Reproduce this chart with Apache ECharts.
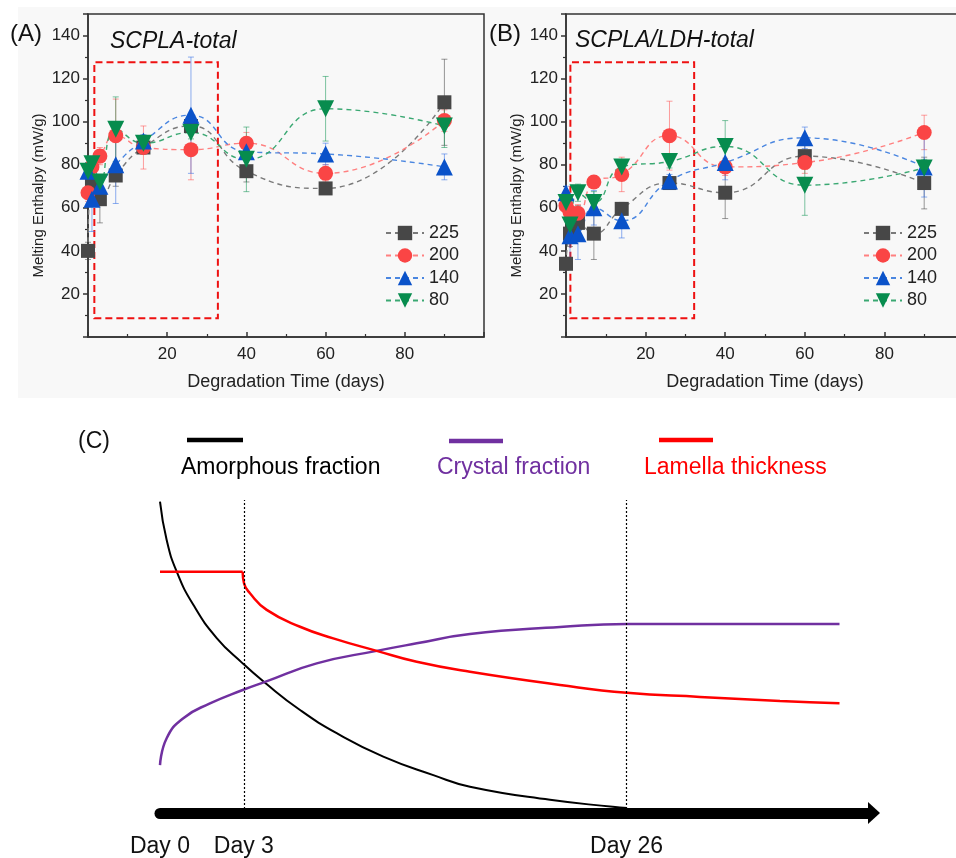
<!DOCTYPE html>
<html>
<head>
<meta charset="utf-8">
<title>Melting enthalpy vs degradation time</title>
<script src="https://cdn.jsdelivr.net/npm/echarts@6.0.0/dist/echarts.min.js"></script>
<style>
html, body { margin: 0; padding: 0; background: #fff; }
#chart { width: 956px; height: 858px; }
</style>
</head>
<body>
<div id="chart"></div>
<script>
// sampling days (both panels)
const days = [0, 1, 3, 7, 14, 26, 40, 60, 90];
const seriesNames = ['225', '200', '140', '80'];

// (A) SCPLA-total, mean and error
const a225 = [40, 71, 64, 75, 88, 98, 77, 69, 109];
const a200 = [67, 79, 84, 93.5, 88, 87, 90, 76, 100.5];
const a140 = [77, 64, 70, 80, 91, 103, 86, 85, 79];
const a80 = [77, 80.5, 72, 96.5, 90, 95, 82.5, 106, 98];
const a225Err = [4, 5, 11, 5, 3, 3, 5, 2, 20];
const a200Err = [4, 4, 4, 17, 10, 14, 5, 4, 5];
const a140Err = [4, 15, 5, 18, 3, 27, 4, 5, 6];
const a80Err = [4, 3, 3, 15, 3, 3, 15, 15, 10];

// (B) SCPLA/LDH-total
const b225 = [34, 48, 53, 48, 59.5, 71.5, 67, 84, 71.5];
const b200 = [61, 58, 57.5, 72, 75.5, 93.5, 79, 81, 95];
const b140 = [67, 47, 48, 60, 54, 72.5, 81, 92.5, 79];
const b80 = [62.5, 52, 67, 62.5, 79, 81.5, 88.5, 70.5, 78.5];
const b225Err = [3, 6, 8, 12, 3, 3, 12, 5, 12];
const b200Err = [3, 3, 4, 3, 8, 16, 4, 5, 8];
const b140Err = [3, 12, 12, 8, 8, 3, 8, 5, 14];
const b80Err = [3, 4, 4, 5, 3, 3, 12, 14, 4];

// (C) schematic curves, arbitrary units 0-100
const amorphousX = [0, 0.94, 2.36, 4.7, 8, 11.66, 14.81, 19.75, 24.92, 31.49, 38.55, 43.72, 55.01, 63.85, 65.87];
const amorphousY = [99.5, 87.2, 77.1, 66.5, 55.9, 47.8, 41.6, 32.9, 25.5, 18, 12.1, 8.4, 4.2, 2, 1.6];
const lamellaFlatX = [0, 11.66];
const lamellaFlatY = [77.1, 77.1];
const lamellaX = [11.66, 11.85, 12.69, 15.05, 19.75, 24.44, 30.56, 36.21, 43.72, 56.42, 65.87, 76.16, 87.45, 95.84];
const lamellaY = [77.1, 73.4, 70.2, 64.9, 59.5, 55.8, 51.8, 48.3, 45.1, 40.9, 38.4, 37.1, 35.8, 35.1];
const crystalX = [0, 0.94, 3.29, 7.05, 11.66, 14.81, 22.1, 30.56, 36.21, 43.72, 56.42, 65.87, 95.84];
const crystalY = [15.3, 23.9, 30.3, 35, 39.3, 41.9, 47.8, 51.8, 54.2, 57.2, 59.4, 60.4, 60.4];
const dayTickPos = [0, 11.83, 65.8];
const dayLabels = ['Day 0', 'Day 3', 'Day 26'];

const FONT = '"Liberation Sans", Arial, sans-serif';
const chart = echarts.init(document.getElementById('chart'));

const styles = [
  { symbol: 'rect', size: 14, mark: '#474747', line: '#7a7a7a', err: 'rgba(70,70,70,0.55)' },
  { symbol: 'circle', size: 15, mark: '#fa4545', line: '#ff8080', err: 'rgba(255,80,80,0.55)' },
  { symbol: 'triangle', size: 17, mark: '#0a52c9', line: '#4a86e0', err: 'rgba(50,110,230,0.55)' },
  { symbol: 'path://M0,0 L10,0 L5,9 Z', size: 17, mark: '#078c4e', line: '#3aa872', err: 'rgba(20,150,85,0.55)' }
];

function pairs(xs, ys) {
  return xs.map((x, i) => [x, ys[i]]);
}

function drawErrorBar(params, api) {
  const top = api.coord([api.value(0), api.value(2)]);
  const bot = api.coord([api.value(0), api.value(1)]);
  const cap = 3;
  const style = { stroke: api.visual('color'), lineWidth: 1 };
  return {
    type: 'group',
    children: [
      { type: 'line', shape: { x1: top[0], y1: top[1], x2: bot[0], y2: bot[1] }, style: style },
      { type: 'line', shape: { x1: top[0] - cap, y1: top[1], x2: top[0] + cap, y2: top[1] }, style: style },
      { type: 'line', shape: { x1: bot[0] - cap, y1: bot[1], x2: bot[0] + cap, y2: bot[1] }, style: style }
    ]
  };
}

function panelSeries(g, values, errs, box) {
  const out = [];
  values.forEach((vals, k) => {
    const s = styles[k];
    out.push({
      type: 'custom',
      xAxisIndex: g, yAxisIndex: g,
      silent: true,
      z: 2,
      itemStyle: { color: s.err },
      encode: { x: 0, y: [1, 2] },
      data: days.map((d, i) => [d, vals[i] - errs[k][i], vals[i] + errs[k][i]]),
      renderItem: drawErrorBar
    });
  });
  values.forEach((vals, k) => {
    const s = styles[k];
    const ser = {
      type: 'line',
      name: seriesNames[k],
      xAxisIndex: g, yAxisIndex: g,
      data: pairs(days, vals),
      smooth: true,
      clip: false,
      z: 3,
      symbol: s.symbol,
      symbolSize: s.size,
      itemStyle: { color: s.mark, opacity: 1 },
      lineStyle: { color: s.line, width: 1.4, type: [5, 4] }
    };
    if (k === 0) {
      ser.markArea = {
        silent: true,
        itemStyle: { color: 'rgba(0,0,0,0)', borderColor: '#ee1111', borderWidth: 2, borderType: [7, 4] },
        data: [[{ coord: [box[0], box[1]] }, { coord: [box[2], box[3]] }]]
      };
    }
    out.push(ser);
  });
  return out;
}

function xAxisAB(g) {
  return {
    gridIndex: g, type: 'value', min: 0, max: 100, interval: 20,
    axisLine: { lineStyle: { color: '#333', width: 1.5 } },
    axisTick: { inside: true, length: 5, lineStyle: { color: '#333', width: 1.5 } },
    minorTick: { show: true, splitNumber: 2, length: 3, lineStyle: { color: '#333', width: 1.2 } },
    splitLine: { show: false },
    axisLabel: { fontSize: 17, color: '#222', margin: 9, formatter: v => (v > 0 && v < 100 ? String(v) : '') },
    name: 'Degradation Time (days)', nameLocation: 'middle', nameGap: 36,
    nameTextStyle: { fontSize: 18, color: '#222' }
  };
}

function yAxisAB(g) {
  return {
    gridIndex: g, type: 'value', min: 0, max: 150, interval: 20,
    axisLine: { show: true, lineStyle: { color: '#333', width: 1.5 } },
    axisTick: { show: true, length: 5, lineStyle: { color: '#333', width: 1.5 } },
    minorTick: { show: true, splitNumber: 2, length: 3, lineStyle: { color: '#333', width: 1.2 } },
    splitLine: { show: false },
    axisLabel: { fontSize: 17, color: '#222', margin: 8, formatter: v => (v > 0 && v < 150 ? String(v) : '') },
    name: 'Melting Enthalpy (mW/g)', nameLocation: 'middle', nameGap: 42,
    nameTextStyle: { fontSize: 15, color: '#222', padding: [0, 40, 0, 0] }
  };
}

function legendAB(left) {
  return {
    data: seriesNames, orient: 'vertical', left: left, top: 224,
    itemWidth: 38, itemHeight: 18, itemGap: 4.5, padding: 0,
    textStyle: { fontSize: 18, color: '#222', fontFamily: FONT },
    selectedMode: false
  };
}

const schemeLine = (xs, ys, color, width, smooth) => ({
  type: 'line', xAxisIndex: 2, yAxisIndex: 2,
  data: pairs(xs, ys), smooth: smooth,
  symbol: 'none', clip: false, lineStyle: { color: color, width: width }, z: 3
});

const amorphous = schemeLine(amorphousX, amorphousY, '#000000', 2, 0.5);
amorphous.markLine = {
  silent: true, symbol: 'none', label: { show: false },
  lineStyle: { color: '#000', type: [2, 2], width: 1.2 },
  data: dayTickPos.slice(1).map(v => ({ xAxis: v }))
};

const option = {
  animation: false,
  backgroundColor: '#ffffff',
  textStyle: { fontFamily: FONT },
  title: [
    { text: '(A)', left: 10, top: 22, padding: 0, textStyle: { fontSize: 24, fontWeight: 'normal', color: '#111', fontFamily: FONT } },
    { text: 'SCPLA-total', left: 110, top: 30, padding: 0, textStyle: { fontSize: 23, fontStyle: 'italic', fontWeight: 'normal', color: '#111', fontFamily: FONT } },
    { text: '(B)', left: 489, top: 22, padding: 0, textStyle: { fontSize: 24, fontWeight: 'normal', color: '#111', fontFamily: FONT } },
    { text: 'SCPLA/LDH-total', left: 575, top: 29, padding: 0, textStyle: { fontSize: 23, fontStyle: 'italic', fontWeight: 'normal', color: '#111', fontFamily: FONT } }
  ],
  legend: [legendAB(385), legendAB(863)],
  graphic: [
    { type: 'rect', left: 18, top: 7, z: -10, shape: { width: 938, height: 391 }, style: { fill: '#f8f8f8' } },
    { type: 'text', left: 78, top: 430, style: { text: '(C)', font: '23px ' + FONT, fill: '#111' } },
    { type: 'line', shape: { x1: 187, y1: 440, x2: 243, y2: 440 }, style: { stroke: '#000000', lineWidth: 4.5 } },
    { type: 'line', shape: { x1: 449, y1: 441, x2: 503, y2: 441 }, style: { stroke: '#7030a0', lineWidth: 4.5 } },
    { type: 'line', shape: { x1: 659, y1: 440, x2: 713, y2: 440 }, style: { stroke: '#ff0000', lineWidth: 4.5 } },
    { type: 'text', left: 181, top: 456, style: { text: 'Amorphous fraction', font: '23px ' + FONT, fill: '#000' } },
    { type: 'text', left: 437, top: 456, style: { text: 'Crystal fraction', font: '23px ' + FONT, fill: '#7030a0' } },
    { type: 'text', left: 644, top: 456, style: { text: 'Lamella thickness', font: '23px ' + FONT, fill: '#ff0000' } }
  ],
  grid: [
    { left: 88, top: 14, width: 396, height: 323, show: true, borderColor: '#333', borderWidth: 1.5, backgroundColor: 'transparent', outerBoundsMode: 'none' },
    { left: 566, top: 14, width: 398, height: 323, show: true, borderColor: '#333', borderWidth: 1.5, backgroundColor: 'transparent', outerBoundsMode: 'none' },
    { left: 160, top: 500, width: 709, height: 313, show: false, outerBoundsMode: 'none' }
  ],
  xAxis: [
    xAxisAB(0),
    xAxisAB(1),
    {
      gridIndex: 2, type: 'value', min: 0, max: 100,
      axisLine: { show: true, symbol: ['none', 'triangle'], symbolSize: [22, 12], symbolOffset: [0, 5], lineStyle: { color: '#000', width: 11 } },
      axisTick: { show: false },
      splitLine: { show: false },
      axisLabel: { customValues: dayTickPos, fontSize: 23, color: '#111', margin: 22, formatter: v => dayLabels[dayTickPos.indexOf(v)] || '' }
    }
  ],
  yAxis: [
    yAxisAB(0),
    yAxisAB(1),
    { gridIndex: 2, type: 'value', min: 0, max: 100, show: false }
  ],
  series: [
    ...panelSeries(0, [a225, a200, a140, a80], [a225Err, a200Err, a140Err, a80Err], [1.6, 8.7, 32.8, 127.6]),
    ...panelSeries(1, [b225, b200, b140, b80], [b225Err, b200Err, b140Err, b80Err], [1.1, 8.7, 32.2, 127.6]),
    amorphous,
    schemeLine(crystalX, crystalY, '#7030a0', 2.5, 0.5),
    schemeLine(lamellaFlatX, lamellaFlatY, '#ff0000', 2.5, false),
    schemeLine(lamellaX, lamellaY, '#ff0000', 2.5, 0.5)
  ]
};

chart.setOption(option);
</script>
</body>
</html>
